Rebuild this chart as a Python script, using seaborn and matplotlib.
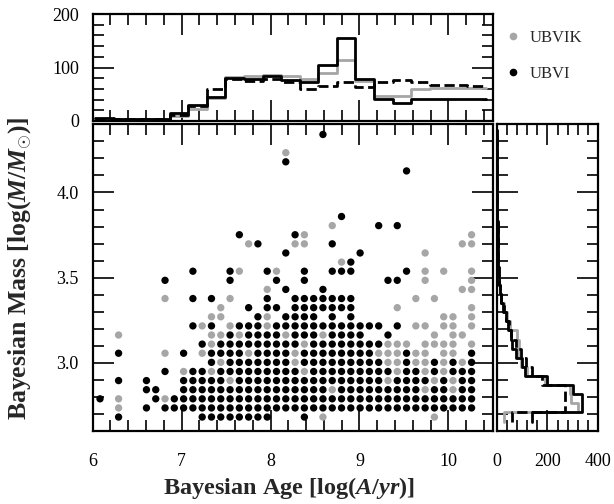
import numpy as np
import pandas as pd
import matplotlib
matplotlib.use("Agg")
import matplotlib.pyplot as plt
import seaborn as sns
from matplotlib.ticker import MultipleLocator, FormatStrFormatter
from matplotlib.lines import Line2D

# ---------------- data ----------------
# grid of the Bayesian solutions (age column k, mass row r)
age_start, age_step = 6.082, 0.1045
mass_start, mass_step = 2.682, 0.0535

# occupied grid cells per mass row: "columns" (ranges a-b allowed)
ubvi_rows = {
    0: "2 11-18 22",
    1: "5 7-40",
    2: "0 6 8-40",
    3: "5 6 9-24 26-34 36 37 39 40",
    4: "2 5 9-13 15-30 32-35 37 39 40",
    5: "7 10 11 13-21 23-31 33 34 36 38-40",
    6: "12 14-20 22-30 33 36 38 40",
    7: "2 9 12-15 17-20 22-29 33 40",
    8: "11 13-21 23-30",
    9: "14 16-19 21-23 25-28 31",
    10: "10 12 15-17 19-30 32",
    11: "17 20-23 25 27",
    12: "16 18 19 21-27",
    13: "10 12 18 21-27",
    14: "20 24",
    15: "7 14 19 22 31 32",
    16: "10 14 18 22 25 26 27 33",
    17: "27",
    18: "20 28",
    19: "17 25",
    20: "15 21",
    21: "30 32",
    22: "26",
    27: "33",
    28: "20",
    31: "24",
}
ubvik_rows = {
    0: "24 36",
    1: "2",
    2: "2 7",
    3: "25 35 38",
    4: "14 31 36 38",
    5: "9 12 22 32 35 37",
    6: "13 21 31 32 34 35 37 39",
    7: "7 11 16 21 30 31 32 34 35 37 38",
    8: "12 22 31 32 33 35 36 37 38 40",
    9: "2 12 13 15 20 24 36 38 39",
    10: "11 14 18 34 35 37 38 40",
    11: "12 13 18 37 38 40",
    12: "13 32 40",
    13: "7 14 34 36",
    14: "18 39 40",
    15: "35 40",
    16: "15 19 35 37 40",
    17: "26",
    18: "35",
    19: "16 21 22 39 40",
    20: "22 40",
    21: "25",
    29: "20",
}

# age histograms (bins of two grid columns)
age_ubvi = [5, 3, 3, 4, 14, 30, 45, 80, 78, 84, 76, 72, 104, 155, 78, 42, 34, 42, 42, 42, 42]
age_ubvik = [4, 3, 3, 4, 10, 22, 43, 82, 84, 86, 84, 78, 90, 115, 75, 46, 46, 60, 62, 62, 62]
age_other = [4, 3, 3, 4, 12, 28, 60, 78, 74, 78, 72, 60, 66, 72, 64, 72, 76, 72, 68, 68, 66]

# mass histograms (bins of one grid row)
mass_ubvi = [140, 335, 335, 300, 200, 110, 100, 75, 62, 55, 45, 35, 25, 16, 12, 9,
             7, 6, 5, 5, 4, 4, 3, 3, 3, 2, 2, 2, 2, 2, 2, 2]
mass_ubvik = [30, 320, 295, 290, 190, 120, 95, 85, 88, 80, 52, 40, 28, 18, 14, 10,
              8, 6, 5, 5, 4, 4, 3, 3, 3, 2, 2, 2, 2, 2, 2, 2]
mass_other = [60, 270, 270, 270, 180, 140, 115, 95, 75, 58, 48, 38, 28, 18, 14, 10,
              8, 6, 5, 5, 4, 4, 3, 3, 3, 2, 2, 2, 2, 2, 2, 2]

legend_labels = ["UBVIK", "UBVI"]
GRAY = "#a6a6a6"


def parse(spec):
    out = []
    for tok in spec.split():
        if "-" in tok:
            a, b = tok.split("-")
            out.extend(range(int(a), int(b) + 1))
        else:
            out.append(int(tok))
    return out


recs = []
for name, rows in (("UBVIK", ubvik_rows), ("UBVI", ubvi_rows)):
    for r, spec in rows.items():
        for k in parse(spec):
            recs.append((name, age_start + age_step * k, mass_start + mass_step * r))
df = pd.DataFrame(recs, columns=["set", "age", "mass"])

age_edges = [float(v) for v in age_start - age_step / 2 + 2 * age_step * np.arange(len(age_ubvi) + 1)]
age_cent = [0.5 * (a + b) for a, b in zip(age_edges[:-1], age_edges[1:])]
mass_edges = [float(v) for v in mass_start - mass_step / 2 + mass_step * np.arange(len(mass_ubvi) + 1)]
mass_cent = [0.5 * (a + b) for a, b in zip(mass_edges[:-1], mass_edges[1:])]

# ---------------- style ----------------
sns.set_style("ticks")
plt.rcParams["font.family"] = ["Liberation Serif", "DejaVu Serif"]
plt.rcParams["mathtext.fontset"] = "custom"
plt.rcParams["mathtext.rm"] = "Liberation Serif:bold"
plt.rcParams["mathtext.it"] = "Liberation Serif:bold:italic"
plt.rcParams["mathtext.bf"] = "Liberation Serif:bold"

fig = plt.figure(figsize=(6.14, 5.04), dpi=100)
ax = fig.add_axes([0.151, 0.1448, 0.6515, 0.6085])
ax_t = fig.add_axes([0.151, 0.760, 0.6515, 0.212])
ax_r = fig.add_axes([0.809, 0.1448, 0.165, 0.6085])

sns.scatterplot(data=df, x="age", y="mass", hue="set",
                palette={"UBVIK": GRAY, "UBVI": "black"},
                s=28, edgecolor="none", legend=False, ax=ax, zorder=3)

for vals, col, ls in ((age_ubvik, GRAY, "-"), (age_other, "black", "--"),
                      (age_ubvi, "black", "-")):
    d = pd.DataFrame({"age": age_cent, "n": vals})
    sns.histplot(data=d, x="age", weights="n", bins=age_edges, element="step", fill=False,
                 color=col, linestyle=ls, linewidth=2.0, ax=ax_t)

for vals, col, ls in ((mass_ubvik, GRAY, "-"), (mass_other, "black", "--"),
                      (mass_ubvi, "black", "-")):
    d = pd.DataFrame({"mass": mass_cent, "n": vals})
    sns.histplot(data=d, y="mass", weights="n", bins=mass_edges, element="step", fill=False,
                 color=col, linestyle=ls, linewidth=2.0, ax=ax_r)

# limits and ticks
ax.set_xlim(6, 10.5)
ax.set_ylim(2.6, 4.4)
ax.xaxis.set_major_locator(MultipleLocator(1))
ax.xaxis.set_minor_locator(MultipleLocator(0.2))
ax.yaxis.set_major_locator(MultipleLocator(0.5))
ax.yaxis.set_minor_locator(MultipleLocator(0.1))
ax.yaxis.set_major_formatter(FormatStrFormatter("%.1f"))

ax_t.set_xlim(6, 10.5)
ax_t.set_ylim(0, 200)
ax_t.xaxis.set_major_locator(MultipleLocator(1))
ax_t.xaxis.set_minor_locator(MultipleLocator(0.2))
ax_t.yaxis.set_major_locator(MultipleLocator(100))
ax_t.yaxis.set_minor_locator(MultipleLocator(20))
ax_t.tick_params(labelbottom=False)

ax_r.set_ylim(2.6, 4.4)
ax_r.set_xlim(0, 400)
ax_r.xaxis.set_major_locator(MultipleLocator(200))
ax_r.xaxis.set_minor_locator(MultipleLocator(40))
ax_r.yaxis.set_major_locator(MultipleLocator(0.5))
ax_r.yaxis.set_minor_locator(MultipleLocator(0.1))
ax_r.tick_params(labelleft=False)

for a in (ax, ax_t, ax_r):
    a.set_xlabel("")
    a.set_ylabel("")
    a.tick_params(which="both", direction="in", top=True, right=True,
                  width=1.2, colors="black", labelsize=13)
    a.tick_params(which="major", length=15)
    a.tick_params(which="minor", length=8)
    a.tick_params(axis="x", which="major", pad=16)
    a.tick_params(axis="y", which="major", pad=10)
    for s in a.spines.values():
        s.set_linewidth(1.6)
        s.set_color("black")

ax.set_xlabel("Bayesian Age [log($A/yr$)]", fontsize=17.5, fontweight="bold")
ax.set_ylabel(r"Bayesian Mass [log($M/M_{\odot}$)]", fontsize=18.5, fontweight="bold")
ax.xaxis.set_label_coords(0.49, -0.143)
ax.yaxis.set_label_coords(-0.15, 0.53)

handles = [Line2D([], [], marker="o", ls="", color=GRAY, markersize=4.5),
           Line2D([], [], marker="o", ls="", color="black", markersize=4.5)]
ax_t.legend(handles, legend_labels, loc="center left",
            bbox_to_anchor=(490 / 614, 1 - 56 / 504), bbox_transform=fig.transFigure,
            frameon=False, handlelength=1.0, handletextpad=0.5, labelspacing=1.2,
            fontsize=12)

fig.savefig("out.png", dpi=100)
